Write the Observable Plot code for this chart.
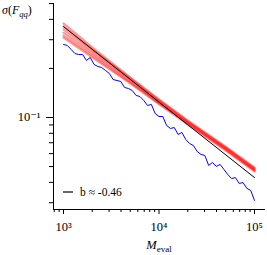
<!DOCTYPE html>
<html><head><meta charset="utf-8">
<script src="https://cdn.jsdelivr.net/npm/d3@7"></script>
<script src="https://cdn.jsdelivr.net/npm/@observablehq/plot@0.6"></script>
<style>body{margin:0;background:#fff} svg{display:block}</style>
</head><body><div id="chart"></div>
<script>
// Blue series: M_eval sample points and sigma values
const blueM = [1000,1096,1202,1318,1445,1585,1738,1905,2089,2291,2512,2754,3020,3311,3631,3981,4365,4786,5248,5754,6310,6918,7586,8318,9120,10000,10965,12023,13183,14454,15849,17378,19055,20893,22909,25119,27542,30200,33113,36308,39811,43652,47863,52481,57544,63096,69183,75858,83176,91201,100000];
const blueSigma = [0.2805,0.2765,0.2613,0.2469,0.2434,0.2434,0.2237,0.2334,0.2114,0.2055,0.2026,0.1942,0.1862,0.1710,0.1686,0.1663,0.1528,0.1506,0.1464,0.1365,0.1345,0.1272,0.1185,0.1202,0.1058,0.1014,0.1014,0.0893,0.0856,0.0868,0.0787,0.0809,0.0733,0.0693,0.0673,0.0619,0.0593,0.0585,0.0508,0.0530,0.0501,0.0515,0.0480,0.0447,0.0422,0.0428,0.0394,0.0399,0.0367,0.0357,0.0310];
// Red band: several runs
const redM = [1000,2000,5000,10000,20000,50000,100000];
const red1 = [0.378,0.269,0.176,0.129,0.0959,0.0663,0.0494];
const red2 = [0.362,0.262,0.174,0.128,0.0945,0.0654,0.0487];
const red3 = [0.347,0.255,0.171,0.126,0.0939,0.0650,0.0483];
const red4 = [0.332,0.247,0.167,0.124,0.0925,0.0640,0.0477];
const red5 = [0.318,0.240,0.164,0.122,0.0919,0.0636,0.0473];
const red6 = [0.309,0.234,0.162,0.121,0.0906,0.0627,0.0467];
// Black fit line
const fitM = [1000,100000];
const fitSigma = [0.361,0.0428];
const legendLabel = "b ≈ -0.46";
// Axes
const xDomain = [785.5,130400];
const yDomain = [0.02726,0.5004];
const xMajor = [1000,10000,100000];
const xMajorLabels = ["10³","10⁴","10⁵"];
const xMinor = [800,900,2000,3000,4000,5000,6000,7000,8000,9000,20000,30000,40000,50000,60000,70000,80000,90000];
const yMajor = [0.1];
const yMajorLabels = ["10⁻¹"];
const yMinor = [0.03,0.04,0.05,0.06,0.07,0.08,0.09,0.2,0.3,0.4,0.5];

const blue = blueM.map((m,i)=>({m, s: blueSigma[i]}));
const reds = [red1,red2,red3,red4,red5,red6];
const redData = reds.flatMap((r,k)=>r.map((s,i)=>({run:k, m: redM[i], s})));
const fit = fitM.map((m,i)=>({m, s: fitSigma[i]}));

const font = "'Liberation Serif', 'DejaVu Serif', serif";
const plot = Plot.plot({
  width: 267, height: 255,
  marginLeft: 53, marginRight: 2, marginTop: 3, marginBottom: 46,
  style: {fontFamily: font, fontSize: "12px", color: "black", background: "white"},
  x: {type: "log", domain: xDomain, label: null},
  y: {type: "log", domain: yDomain, label: null},
  marks: [
    Plot.axisX(xMinor, {tickSize: 3, tickFormat: () => "", label: null}),
    Plot.axisX(xMajor, {tickSize: 5, tickPadding: 8, tickFormat: (d) => xMajorLabels[xMajor.indexOf(d)], label: null, fontSize: 12.5}),
    Plot.axisY(yMinor, {tickSize: 4, tickFormat: () => "", label: null}),
    Plot.axisY(yMajor, {tickSize: 7, tickPadding: 6, tickFormat: d => yMajorLabels[yMajor.indexOf(d)], label: null, fontSize: 12.5}),
    Plot.ruleX([xDomain[0]], {stroke: "black", strokeWidth: 1}),
    Plot.ruleY([yDomain[0]], {stroke: "black", strokeWidth: 1}),
    Plot.line(redData, {x: "m", y: "s", z: "run", stroke: "red", strokeWidth: 2.2, strokeOpacity: 0.4}),
    Plot.line(fit, {x: "m", y: "s", stroke: "black", strokeWidth: 1}),
    Plot.line(blue, {x: "m", y: "s", stroke: "blue", strokeWidth: 1})
  ]
});
document.getElementById("chart").appendChild(plot);

const svg = d3.select(plot);
// y label
const yl = svg.append("text").attr("x", 2).attr("y", 14).attr("text-anchor", "start").attr("font-family", font).attr("font-size", 12).attr("fill", "black");
yl.append("tspan").attr("font-style", "italic").text("σ");
yl.append("tspan").text("(");
yl.append("tspan").attr("font-style", "italic").text("F");
yl.append("tspan").attr("font-style", "italic").attr("font-size", 8.5).attr("dy", 3).text("qq");
yl.append("tspan").attr("dy", -3).text(")");
// x label
const xl = svg.append("text").attr("x", 159).attr("y", 249).attr("text-anchor", "middle").attr("font-family", font).attr("font-size", 12.5).attr("fill", "black");
xl.append("tspan").attr("font-style", "italic").text("M");
xl.append("tspan").attr("font-size", 9).attr("dy", 2.5).text("eval");
// legend
svg.append("line").attr("x1", 63).attr("x2", 73).attr("y1", 192).attr("y2", 192).attr("stroke", "black").attr("stroke-width", 1.2);
svg.append("text").attr("x", 80).attr("y", 195.5).attr("text-anchor", "start").attr("font-family", font).attr("font-size", 11.5).attr("fill", "black").text(legendLabel);
</script></body></html>
